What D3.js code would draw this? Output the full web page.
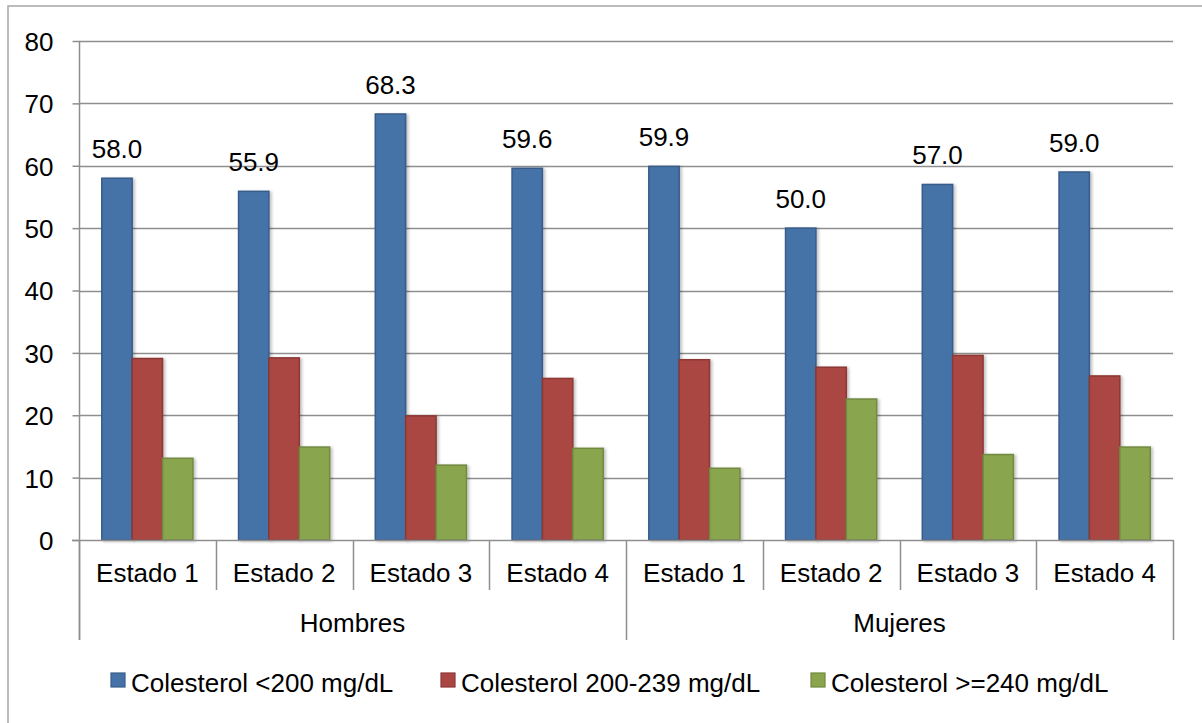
<!DOCTYPE html>
<html>
<head>
<meta charset="utf-8">
<script src="https://cdn.jsdelivr.net/npm/d3@7"></script>
<style>
  html, body { margin: 0; padding: 0; background: #ffffff; }
  svg { display: block; font-family: "Liberation Sans", Arial, sans-serif; }
</style>
</head>
<body>
<svg id="chart" width="1202" height="723"></svg>
<script>
const groups = ["Hombres", "Mujeres"];
const estados = ["Estado 1", "Estado 2", "Estado 3", "Estado 4"];
const seriesNames = ["Colesterol <200 mg/dL", "Colesterol 200-239 mg/dL", "Colesterol >=240 mg/dL"];
const low = [58.0, 55.9, 68.3, 59.6, 59.9, 50.0, 57.0, 59.0];
const mid = [29.1, 29.2, 19.9, 25.9, 28.9, 27.7, 29.6, 26.3];
const high = [13.1, 14.9, 12.0, 14.7, 11.5, 22.6, 13.7, 14.9];
const yTicks = [0, 10, 20, 30, 40, 50, 60, 70, 80];

const fills = ["#4572A7", "#AA4643", "#89A54E"];
const strokes = ["#385D8A", "#8C3836", "#71893F"];
const FS = 26;

const svg = d3.select("#chart");

// outer frame (top & left visible)
svg.append("rect").attr("x", 8).attr("y", 6).attr("width", 1300).attr("height", 900)
  .attr("fill", "none").attr("stroke", "#A6A6A6").attr("stroke-width", 1.5);

const defs = svg.append("defs");
const f = defs.append("filter").attr("id", "shadow").attr("x", "-20%").attr("y", "-5%").attr("width", "150%").attr("height", "115%");
f.append("feGaussianBlur").attr("in", "SourceAlpha").attr("stdDeviation", 1.5).attr("result", "b");
f.append("feOffset").attr("in", "b").attr("dx", 2).attr("dy", 1).attr("result", "o");
f.append("feComponentTransfer").attr("in", "o").attr("result", "o2")
  .append("feFuncA").attr("type", "linear").attr("slope", 0.25);
const fm = f.append("feMerge");
fm.append("feMergeNode").attr("in", "o2");
fm.append("feMergeNode").attr("in", "SourceGraphic");

const cats = [];
groups.forEach(g => estados.forEach(e => cats.push(g + "|" + e)));

const x0 = d3.scaleBand().domain(cats).range([79, 1173]).paddingInner(0).paddingOuter(0);
const y = d3.scaleLinear().domain([0, 80]).range([540, 41]);
const x1 = d3.scaleBand().domain([0, 1, 2]).range([0, x0.bandwidth()]).paddingInner(0).paddingOuter(0.75);

// gridlines
svg.append("g").selectAll("line").data(yTicks.filter(t => t > 0)).join("line")
  .attr("x1", 79).attr("x2", 1173)
  .attr("y1", d => Math.round(y(d)) + 0.5).attr("y2", d => Math.round(y(d)) + 0.5)
  .attr("stroke", "#8E8E8E").attr("stroke-width", 1.5);

// y axis
const yAxis = d3.axisLeft(y).tickValues(yTicks).tickSize(7).tickPadding(19).tickFormat(d3.format("d"));
const yg = svg.append("g").attr("transform", "translate(79.5,0)").call(yAxis);
yg.select(".domain").remove();
yg.selectAll(".tick line").attr("stroke", "#8E8E8E").attr("stroke-width", 1.5);
yg.selectAll(".tick text").attr("font-size", FS).attr("fill", "#000").attr("font-family", "Liberation Sans, Arial, sans-serif").attr("dy", "0.36em");
// axis vertical line
svg.append("line").attr("x1", 79.5).attr("x2", 79.5).attr("y1", 41).attr("y2", 640)
  .attr("stroke", "#8E8E8E").attr("stroke-width", 1.5);

// bars
const seriesData = [low, mid, high];
const barG = svg.append("g");
seriesData.forEach((vals, si) => {
  barG.append("g").selectAll("rect").data(vals).join("rect")
    .attr("x", (d, i) => x0(cats[i]) + x1(si))
    .attr("width", x1.bandwidth())
    .attr("y", d => y(d))
    .attr("height", d => y(0) - y(d))
    .attr("fill", fills[si])
    .attr("stroke", strokes[si])
    .attr("stroke-width", 1.5)
    .attr("filter", "url(#shadow)");
});

// x axis baseline
svg.append("line").attr("x1", 72).attr("x2", 1173).attr("y1", 540.5).attr("y2", 540.5)
  .attr("stroke", "#8E8E8E").attr("stroke-width", 1.5);

// data labels on first series
svg.append("g").selectAll("text").data(low).join("text")
  .attr("x", (d, i) => x0(cats[i]) + x1(0) + x1.bandwidth() / 2)
  .attr("y", d => y(d) - 20)
  .attr("text-anchor", "middle").attr("font-size", FS).attr("fill", "#000")
  .text(d => d3.format(".1f")(d));

// category separators
const sepX = cats.map(c => x0(c)).concat([1173]);
svg.append("g").selectAll("line").data(sepX).join("line")
  .attr("x1", d => Math.round(d) + 0.5).attr("x2", d => Math.round(d) + 0.5)
  .attr("y1", 540).attr("y2", (d, i) => (i % 4 === 0) ? 640 : 590)
  .attr("stroke", "#8E8E8E").attr("stroke-width", 1.5);

// estado labels
svg.append("g").selectAll("text").data(cats).join("text")
  .attr("x", d => x0(d) + x0.bandwidth() / 2)
  .attr("y", 582)
  .attr("text-anchor", "middle").attr("font-size", FS).attr("fill", "#000")
  .text(d => d.split("|")[1]);

// group labels
svg.append("g").selectAll("text").data(groups).join("text")
  .attr("x", (g, gi) => x0(cats[gi * 4]) + x0.bandwidth() * 2)
  .attr("y", 632)
  .attr("text-anchor", "middle").attr("font-size", FS).attr("fill", "#000")
  .text(d => d);

// legend
const legendX = [111, 441, 811];
const lg = svg.append("g");
seriesNames.forEach((name, si) => {
  const lx = legendX[si];
  lg.append("rect").attr("x", lx).attr("y", 673).attr("width", 14).attr("height", 14)
    .attr("fill", fills[si]).attr("stroke", strokes[si]).attr("stroke-width", 1.2);
  lg.append("text").attr("x", lx + 20).attr("y", 692)
    .attr("font-size", FS).attr("fill", "#000").text(name);
});
</script>
</body>
</html>
